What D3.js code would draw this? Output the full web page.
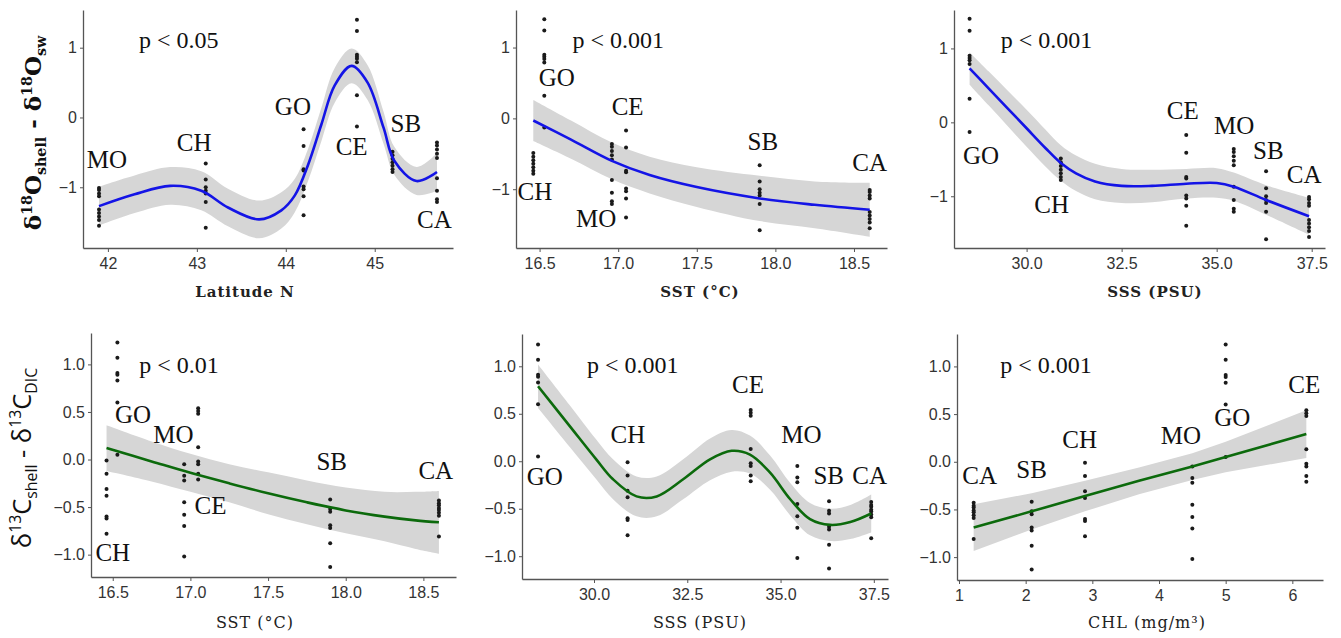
<!DOCTYPE html>
<html>
<head>
<meta charset="utf-8">
<script src="https://cdn.jsdelivr.net/npm/d3@7"></script>
<style>
  body { margin: 0; background: #fff; }
  .tick text { font-family: "Liberation Sans", Arial, sans-serif; font-size: 16px; fill: #333; }
  .tick line, .domain { stroke: #555; }
</style>
</head>
<body>
<svg id="chart"></svg>
<script>
// Sites, in the order used by every value list below
var sites = ["GO", "CH", "CE", "MO", "SB", "CA"];

// Environmental value of each site (same order as sites)
var latitude = [44.8, 45.2, 44.2, 45.7, 43.1, 41.9];
var sst = [16.53, 16.46, 17.05, 16.96, 17.9, 18.6];
var sss = [28.5, 30.9, 34.2, 35.45, 36.3, 37.43];
var chl = [5.0, 2.89, 6.21, 4.5, 2.09, 1.22];

// d18O shell - d18O sw per site
var o18 = [
  [1.40, 1.24, 0.90, 0.87, 0.84, 0.79, 0.32, -0.13],
  [-0.49, -0.54, -0.59, -0.64, -0.69, -0.74, -0.78],
  [-0.17, -0.41, -0.74, -0.76, -0.99, -1.03, -1.13, -1.40],
  [-0.36, -0.40, -0.46, -0.52, -0.58, -0.87, -1.05, -1.17, -1.21],
  [-0.66, -0.89, -1.00, -1.05, -1.09, -1.21, -1.58],
  [-1.01, -1.04, -1.09, -1.13, -1.32, -1.37, -1.42, -1.47, -1.55]
];

// d13C shell - d13C DIC per site
var c13 = [
  [1.23, 1.07, 0.91, 0.89, 0.83, 0.60, 0.05],
  [-0.01, -0.15, -0.31, -0.38, -0.60, -0.62, -0.78],
  [0.54, 0.51, 0.48, 0.13, -0.02, -0.05, -0.15, -0.21],
  [-0.05, -0.17, -0.22, -0.45, -0.58, -0.70, -1.02],
  [-0.42, -0.52, -0.55, -0.69, -0.72, -0.88, -1.13],
  [-0.43, -0.46, -0.48, -0.51, -0.53, -0.56, -0.59, -0.81]
];

// Smoothed fits: x, fitted value, half width of the confidence band
var fit1X = [41.9, 42.3, 42.7, 43.05, 43.35, 43.7, 43.95, 44.1, 44.25, 44.4, 44.55, 44.74, 44.92, 45.1, 45.22, 45.47, 45.7];
var fit1Y = [-1.27, -1.10, -0.98, -1.05, -1.29, -1.46, -1.33, -1.12, -0.68, -0.10, 0.46, 0.74, 0.50, -0.15, -0.62, -0.91, -0.78];
var fit1H = [0.28, 0.27, 0.27, 0.28, 0.27, 0.27, 0.26, 0.24, 0.23, 0.24, 0.25, 0.25, 0.25, 0.23, 0.2, 0.2, 0.27];

var fit2X = [16.46, 16.7, 16.96, 17.2, 17.5, 17.9, 18.25, 18.6];
var fit2Y = [-0.03, -0.30, -0.60, -0.80, -0.97, -1.13, -1.22, -1.29];
var fit2H = [0.29, 0.27, 0.26, 0.26, 0.28, 0.32, 0.33, 0.38];

var fit3X = [28.5, 29.0, 29.5, 30.0, 30.5, 30.9, 31.3, 31.8, 32.5, 33.3, 34.2, 35.0, 35.45, 36.3, 37.43];
var fit3Y = [0.73, 0.46, 0.19, -0.08, -0.35, -0.55, -0.69, -0.80, -0.86, -0.86, -0.83, -0.82, -0.87, -1.05, -1.27];
var fit3H = [0.22, 0.23, 0.24, 0.25, 0.25, 0.24, 0.24, 0.24, 0.23, 0.22, 0.2, 0.2, 0.19, 0.2, 0.25];

var fit4X = [16.46, 16.75, 17.0, 17.25, 17.5, 17.75, 18.0, 18.25, 18.45, 18.6];
var fit4Y = [0.12, -0.02, -0.14, -0.25, -0.355, -0.45, -0.535, -0.60, -0.64, -0.66];
var fit4H = [0.24, 0.21, 0.2, 0.2, 0.22, 0.23, 0.24, 0.26, 0.3, 0.33];

var fit5X = [28.5, 29.35, 30.06, 30.51, 31.14, 31.68, 32.39, 33.11, 33.69, 34.18, 34.72, 35.26, 35.79, 36.33, 36.87, 37.43];
var fit5Y = [0.79, 0.37, 0.02, -0.19, -0.37, -0.37, -0.19, 0.02, 0.11, 0.07, -0.12, -0.40, -0.61, -0.67, -0.64, -0.55];
var fit5H = [0.23, 0.22, 0.21, 0.21, 0.21, 0.21, 0.21, 0.22, 0.22, 0.2, 0.18, 0.17, 0.17, 0.17, 0.18, 0.2];

var fit6X = [1.22, 2.09, 2.89, 3.7, 4.5, 5.0, 6.21];
var fit6Y = [-0.69, -0.52, -0.36, -0.20, -0.05, 0.05, 0.29];
var fit6H = [0.245, 0.19, 0.16, 0.14, 0.14, 0.16, 0.25];

// Site labels, placed in data units: [text, x, y]
var labels1 = [["MO", 41.99, -0.73], ["CH", 42.97, -0.48], ["GO", 44.08, 0.03], ["CE", 44.74, -0.54], ["SB", 45.35, -0.21], ["CA", 45.67, -1.59]];
var labels2 = [["GO", 16.61, 0.46], ["CE", 17.06, 0.05], ["CH", 16.47, -1.15], ["MO", 16.86, -1.54], ["SB", 17.92, -0.45], ["CA", 18.6, -0.74]];
var labels3 = [["GO", 28.80, -0.56], ["CH", 30.66, -1.23], ["CE", 34.11, 0.05], ["MO", 35.46, -0.16], ["SB", 36.36, -0.50], ["CA", 37.30, -0.82]];
var labels4 = [["GO", 16.63, 0.38], ["MO", 16.89, 0.17], ["CE", 17.13, -0.57], ["CH", 16.5, -1.07], ["SB", 17.91, -0.11], ["CA", 18.58, -0.20]];
var labels5 = [["GO", 28.68, -0.25], ["CH", 30.91, 0.19], ["CE", 34.13, 0.72], ["MO", 35.56, 0.19], ["SB", 36.29, -0.24], ["CA", 37.39, -0.24]];
var labels6 = [["CA", 1.31, -0.23], ["SB", 2.09, -0.17], ["CH", 2.81, 0.14], ["MO", 4.33, 0.19], ["GO", 5.10, 0.37], ["CE", 6.18, 0.72]];

var pValues = ["p < 0.05", "p < 0.001", "p < 0.001", "p < 0.01", "p < 0.001", "p < 0.001"];
var pPos = [[42.35, 0.99], [16.71, 0.99], [29.32, 1.0], [16.67, 0.905], [29.81, 0.93], [1.62, 0.93]];

var xTicks1 = [42, 43, 44, 45];
var xTicksSST = [16.5, 17.0, 17.5, 18.0, 18.5];
var xTicksSSS = [30.0, 32.5, 35.0, 37.5];
var xTicksCHL = [1, 2, 3, 4, 5, 6];
var yTicksO = [-1, 0, 1];
var yTicksC = [-1.0, -0.5, 0.0, 0.5, 1.0];

// SVG size
var svgWidth = 1341;
var svgHeight = 638;

var svg = d3.select("#chart")
  .attr("width", svgWidth)
  .attr("height", svgHeight);

var blue = "#1414e6";
var green = "#0c6a0c";

var panels = [
  {box: [83, 453, 10, 248], xd: [41.72, 45.88], yd: [-1.87, 1.54], xv: latitude, yv: o18, fx: fit1X, fy: fit1Y, fh: fit1H,
   col: blue, labels: labels1, xt: xTicks1, xf: "d", yt: yTicksO, yf: "d", title: "Latitude N", tx: 245, ty: 297, bold: true},
  {box: [516, 887, 10, 248], xd: [16.35, 18.71], yd: [-1.83, 1.53], xv: sst, yv: o18, fx: fit2X, fy: fit2Y, fh: fit2H,
   col: blue, labels: labels2, xt: xTicksSST, xf: ".1f", yt: yTicksO, yf: "d", title: "SST (°C)", tx: 700, ty: 297, bold: true},
  {box: [954, 1325, 10, 248], xd: [28.09, 37.85], yd: [-1.70, 1.52], xv: sss, yv: o18, fx: fit3X, fy: fit3Y, fh: fit3H,
   col: blue, labels: labels3, xt: xTicksSSS, xf: ".1f", yt: yTicksO, yf: "d", title: "SSS (PSU)", tx: 1155, ty: 297, bold: true},
  {box: [91, 456, 333, 577], xd: [16.36, 18.71], yd: [-1.235, 1.33], xv: sst, yv: c13, fx: fit4X, fy: fit4Y, fh: fit4H,
   col: green, labels: labels4, xt: xTicksSST, xf: ".1f", yt: yTicksC, yf: ".1f", title: "SST (°C)", tx: 255, ty: 628, bold: false},
  {box: [522, 888, 334, 579], xd: [28.07, 37.88], yd: [-1.24, 1.34], xv: sss, yv: c13, fx: fit5X, fy: fit5Y, fh: fit5H,
   col: green, labels: labels5, xt: xTicksSSS, xf: ".1f", yt: yTicksC, yf: ".1f", title: "SSS (PSU)", tx: 700, ty: 628, bold: false},
  {box: [957, 1323, 334, 580], xd: [0.97, 6.46], yd: [-1.24, 1.34], xv: chl, yv: c13, fx: fit6X, fy: fit6Y, fh: fit6H,
   col: green, labels: labels6, xt: xTicksCHL, xf: "d", yt: yTicksC, yf: ".1f", title: "CHL (mg/m³)", tx: 1147, ty: 628, bold: false}
];

panels.forEach(function(p, i) {
  var xScale = d3.scaleLinear().domain(p.xd).range([p.box[0], p.box[1]]);
  var yScale = d3.scaleLinear().domain(p.yd).range([p.box[3], p.box[2]]);
  var g = svg.append("g");

  // confidence band and fitted curve
  var fitData = p.fx.map(function(x, j) { return {x: x, y: p.fy[j], h: p.fh[j]}; });
  var curve = i === 5 ? d3.curveLinear : d3.curveCatmullRom;

  g.append("path")
    .datum(fitData)
    .attr("fill", "#d6d6d6")
    .attr("d", d3.area()
      .curve(curve)
      .x(d => xScale(d.x))
      .y0(d => yScale(d.y - d.h))
      .y1(d => yScale(d.y + d.h)));

  // points
  var pts = [];
  p.xv.forEach(function(x, s) {
    p.yv[s].forEach(function(v) { pts.push({x: x, y: v}); });
  });
  g.append("g").selectAll("circle")
    .data(pts)
    .enter()
    .append("circle")
    .attr("cx", d => xScale(d.x))
    .attr("cy", d => yScale(d.y))
    .attr("r", 2)
    .attr("fill", "#1a1a1a");

  g.append("path")
    .datum(fitData)
    .attr("fill", "none")
    .attr("stroke", p.col)
    .attr("stroke-width", 2.6)
    .attr("d", d3.line()
      .curve(curve)
      .x(d => xScale(d.x))
      .y(d => yScale(d.y)));

  // axes
  g.append("g")
    .attr("transform", `translate(0, ${p.box[3]})`)
    .call(d3.axisBottom(xScale).tickValues(p.xt).tickFormat(d3.format(p.xf)).tickSize(4).tickSizeOuter(0).tickPadding(6));
  g.append("g")
    .attr("transform", `translate(${p.box[0]}, 0)`)
    .call(d3.axisLeft(yScale).tickValues(p.yt).tickFormat(d3.format(p.yf)).tickSize(3).tickSizeOuter(0).tickPadding(3));
  g.selectAll(".domain").attr("stroke-width", 1.3);

  // site labels
  g.append("g").selectAll("text")
    .data(p.labels)
    .enter()
    .append("text")
    .attr("x", d => xScale(d[1]))
    .attr("y", d => yScale(d[2]))
    .attr("text-anchor", "middle")
    .style("font-family", "'Liberation Serif', 'Times New Roman', serif")
    .style("font-size", "25px")
    .attr("fill", "#111")
    .text(d => d[0]);

  // p value
  g.append("text")
    .attr("x", xScale(pPos[i][0]))
    .attr("y", yScale(pPos[i][1]))
    .style("font-family", "'Liberation Serif', 'Times New Roman', serif")
    .style("font-size", "24px")
    .attr("fill", "#111")
    .text(pValues[i]);

  // x axis title
  g.append("text")
    .attr("x", p.tx)
    .attr("y", p.ty)
    .attr("text-anchor", "middle")
    .style("font-family", "'DejaVu Serif', serif")
    .style("font-size", p.bold ? "15px" : "16px")
    .style("font-weight", p.bold ? "bold" : "normal")
    .style("letter-spacing", "1px")
    .attr("fill", "#222")
    .text(p.title);
});

// y axis titles with sub/superscripts
function yTitle(x, y, family, size, weight, parts) {
  var t = svg.append("text")
    .attr("transform", `translate(${x}, ${y}) rotate(-90)`)
    .attr("text-anchor", "middle")
    .style("font-family", family)
    .style("font-size", size + "px")
    .style("font-weight", weight)
    .attr("fill", "#111");
  var shift = 0;
  parts.forEach(function(part) {
    var target = part[1] === "sup" ? -0.4 * size : part[1] === "sub" ? 0.22 * size : 0;
    t.append("tspan")
      .attr("dy", target - shift)
      .style("font-size", part[1] ? (size * 0.62) + "px" : null)
      .text(part[0]);
    shift = target;
  });
}

yTitle(41, 133, "'DejaVu Serif', serif", 23, "bold",
  [["δ"], ["18", "sup"], ["O"], ["shell", "sub"], [" - δ"], ["18", "sup"], ["O"], ["sw", "sub"]]);
yTitle(31, 458, "'Open Sans', 'Liberation Sans', sans-serif", 25.5, "normal",
  [["δ"], ["13", "sup"], ["C"], ["shell", "sub"], [" - δ"], ["13", "sup"], ["C"], ["DIC", "sub"]]);
</script>
</body>
</html>
